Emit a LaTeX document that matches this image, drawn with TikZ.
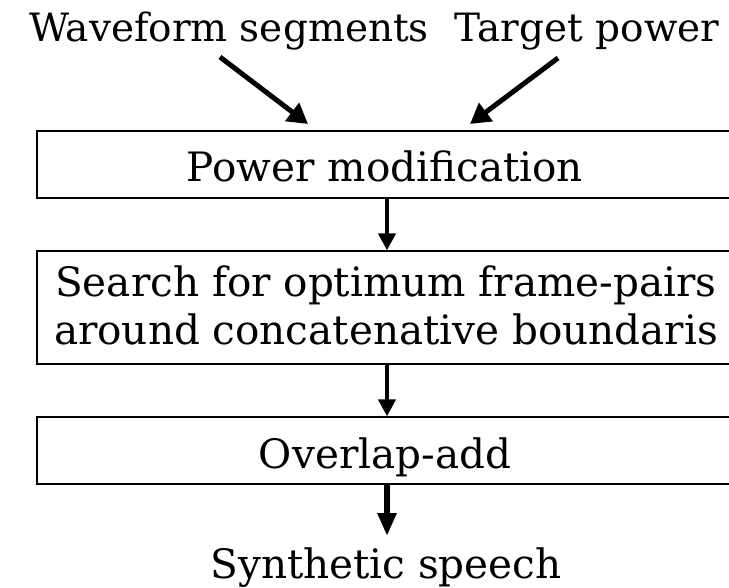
\documentclass[tikz,border=0pt]{standalone}
\usepackage{fontspec}
\setmainfont{DejaVu Serif}
\usetikzlibrary{arrows.meta}

\tikzset{
  bigtext/.style={font=\fontsize{40.5}{48}\selectfont},
  stage/.style={draw, line width=1.3pt, minimum width=696pt, inner sep=0pt,
                align=center, bigtext},
  oneline/.style={text height=35pt, text depth=0pt},
  label/.style={inner sep=0pt, anchor=base, bigtext},
  inlabel/.style={label, font=\fontsize{39}{48}\selectfont},
  feed/.style={line width=5pt, -{Triangle[length=20pt,width=22pt]}},
  flow/.style={line width=4.5pt, -{Triangle[length=17pt,width=17pt]}},
  outflow/.style={line width=6pt, -{Triangle[length=23pt,width=18pt]}}
}

\begin{document}
\begin{tikzpicture}[x=1pt, y=-1pt]
  \useasboundingbox (0,0) rectangle (729,588);

  % inputs
  \node[inlabel] (wave) at (229,42) {Waveform segments};
  \node[inlabel] (target) at (587,42) {Target power};

  % processing stages
  \node[stage, oneline, minimum height=67pt] (power) at (385,164.5) {Power modification};
  \node[stage, minimum height=113pt] (search) at (385,307.5) {};
  \node[bigtext, align=center, inner sep=0pt] (searchtext) at (386,305.5)
       {Search for optimum frame-pairs\\around concatenative boundaris};
  \node[stage, oneline, minimum height=67pt] (ola) at (385,450.5) {Overlap-add};

  % output
  \node[label] (out) at (386,578) {Synthetic speech};

  % connectors
  \coordinate (wa) at (220,57);
  \coordinate (wt) at (308,124);
  \coordinate (ta) at (558,58);
  \coordinate (tt) at (470,124);
  \draw[feed] (wa) -- (wt);
  \draw[feed] (ta) -- (tt);
  \draw[flow] ([xshift=2pt]power.south) -- ([xshift=2pt]search.north);
  \draw[flow] ([xshift=2pt]search.south) -- ([xshift=2pt]ola.north);
  \coordinate (oe) at (387,536);
  \draw[outflow] ([xshift=2pt]ola.south) -- (oe);
\end{tikzpicture}
\end{document}
